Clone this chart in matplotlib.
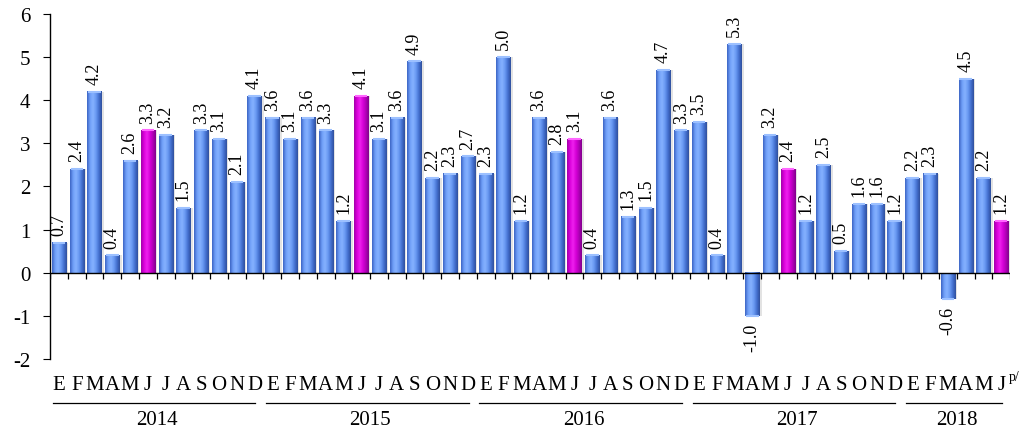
import numpy as np
import matplotlib
matplotlib.use('Agg')
import matplotlib.pyplot as plt
from matplotlib.colors import LinearSegmentedColormap
import matplotlib.transforms as mtransforms

plt.rcParams['font.family'] = ['Liberation Serif', 'DejaVu Serif']
plt.rcParams['axes.unicode_minus'] = False

# Datos: variación mensual (%), enero 2014 - junio 2018
years = ['2014', '2015', '2016', '2017', '2018']
months = ['E', 'F', 'M', 'A', 'M', 'J', 'J', 'A', 'S', 'O', 'N', 'D']
months_per_year = [12, 12, 12, 12, 6]
values = [
    0.7, 2.4, 4.2, 0.4, 2.6, 3.3, 3.2, 1.5, 3.3, 3.1, 2.1, 4.1,   # 2014
    3.6, 3.1, 3.6, 3.3, 1.2, 4.1, 3.1, 3.6, 4.9, 2.2, 2.3, 2.7,   # 2015
    2.3, 5.0, 1.2, 3.6, 2.8, 3.1, 0.4, 3.6, 1.3, 1.5, 4.7, 3.3,   # 2016
    3.5, 0.4, 5.3, -1.0, 3.2, 2.4, 1.2, 2.5, 0.5, 1.6, 1.6, 1.2,  # 2017
    2.2, 2.3, -0.6, 4.5, 2.2, 1.2,                                # 2018
]
highlight = [5, 17, 29, 41, 53]  # junio de cada año

blue_cmap = LinearSegmentedColormap.from_list(
    'blue3d', ['#3b63c2', '#6f9ff8', '#86b2ff', '#6a9af3', '#4470d0', '#2f4f9c'])
mag_cmap = LinearSegmentedColormap.from_list(
    'mag3d', ['#a000a8', '#dc00dc', '#ee22ee', '#d800d8', '#b000b8', '#80008a'])

fig = plt.figure(figsize=(10.26, 4.31), dpi=100)
ax = fig.add_axes([0.0488, 0.165, 0.9357, 0.80])

x = np.arange(len(values))
w = 0.8
grad = np.linspace(0, 1, 64).reshape(1, -1)
for i, v in zip(x, values):
    cmap = mag_cmap if i in highlight else blue_cmap
    # sombra
    ax.bar(i + 0.12, v, width=w, color='#c8c8c8', alpha=0.5, zorder=1, linewidth=0)
    ax.imshow(grad, cmap=cmap, aspect='auto', interpolation='bicubic',
              extent=[i - w / 2, i + w / 2, min(0, v), max(0, v)], zorder=2)
    # tapa superior
    ax.plot([i - w / 2 + 0.05, i + w / 2 - 0.05], [v, v],
            color='#9cc0ff' if i not in highlight else '#ff66ff', lw=1.5, zorder=3,
            solid_capstyle='butt')
    if v >= 0:
        ax.text(i, v + 0.18, f'{v:.1f}', rotation=90, ha='center', va='bottom',
                fontsize=13, zorder=4)
    else:
        ax.text(i, v - 0.16, f'{v:.1f}', rotation=90, ha='center', va='top',
                fontsize=13, zorder=4)

ax.set_xlim(-0.5, len(values) - 0.5)
ax.set_ylim(-2, 6)

# eje cero con marcas entre barras
ax.axhline(0, color='black', lw=1, zorder=5)
ax.vlines(np.arange(len(values) + 1) - 0.5, -0.15, 0, color='black', lw=0.9, zorder=5)

for s in ['top', 'right', 'bottom']:
    ax.spines[s].set_visible(False)
ax.spines['left'].set_linewidth(1)
ax.set_xticks([])
ax.set_yticks(range(-2, 7))
ax.tick_params(axis='y', direction='out', length=5, labelsize=15, pad=9)

# etiquetas de meses y años
trans = mtransforms.blended_transform_factory(ax.transData, ax.transAxes)
start = 0
for yr, n in zip(years, months_per_year):
    for k in range(n):
        ax.text(start + k, -0.075, months[k], transform=trans, ha='center', va='center',
                fontsize=15, clip_on=False)
    ax.plot([start - 0.35, start + n - 1 + 0.05], [-0.128, -0.128], transform=trans,
            color='black', lw=0.9, clip_on=False)
    ax.text(start + (n - 1) / 2, -0.175, yr, transform=trans, ha='center', va='center',
            fontsize=15, clip_on=False)
    start += n
ax.text(len(values) - 1 + 0.4, -0.05, 'p/', transform=trans, ha='left', va='center',
        fontsize=10, clip_on=False)

fig.savefig('out.png', dpi=100)
